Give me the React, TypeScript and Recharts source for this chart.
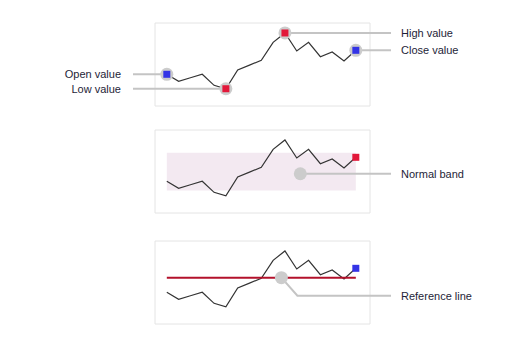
import { LineChart, Line, XAxis, YAxis, CartesianGrid, ReferenceArea, ReferenceLine, ReferenceDot } from 'recharts'

const seq = [0, 1, 2, 3, 4, 5, 6, 7, 8, 9, 10, 11, 12, 13, 14, 15, 16]
const price = [38.2, 29.8, 34, 38.2, 24.9, 20.8, 43.4, 49.2, 55.1, 76.7, 88, 66.3, 76.7, 59.4, 65.1, 54.2, 67.1]
const normalBand = [27, 72.7]
const referenceValue = 55.8
const bandNote = { x: 11.3, y: 47.3 }
const refNoteX = 9.7

const rows = seq.map((x, i) => ({ x, v: price[i] }))

const GRID = '#e4e4e4'
const LEADER = '#c4c4c4'
const HALO = '#cccccc'
const BLUE = '#3434e6'
const RED = '#e2183a'
const TEXT = '#1e1e38'
const FONT = '"Liberation Sans", Arial, sans-serif'
const LEFT_COL = 133
const RIGHT_COL = 391

const last = rows.length - 1
const hiIdx = price.indexOf(Math.max(...price))
const loIdx = price.indexOf(Math.min(...price))

function Label({ x, y, text, end }: { x: number; y: number; text: string; end?: boolean }) {
  return (
    <text x={x} y={y} dy={4} textAnchor={end ? 'end' : 'start'} fontSize={11} fontFamily={FONT} fill={TEXT}>
      {text}
    </text>
  )
}

function Marker({ cx, cy, color }: { cx: number; cy: number; color: string }) {
  return <rect x={cx - 3.5} y={cy - 3.5} width={7} height={7} fill={color} />
}

// tick lines only, no tick text: gives the short grid overhang outside the plot
const noText = () => <g />

function frame() {
  return [
    <CartesianGrid key="g" stroke={GRID} />,
    <XAxis key="xb" dataKey="x" type="number" domain={[-1, 17.2]} ticks={[-1, 17.2]} height={0} tick={noText} axisLine={false} tickSize={4} tickLine={{ stroke: GRID }} />,
    <XAxis key="xt" xAxisId="t" orientation="top" dataKey="x" type="number" domain={[-1, 17.2]} ticks={[-1, 17.2]} height={0} tick={noText} axisLine={false} tickSize={4} tickLine={{ stroke: GRID }} />,
    <YAxis key="yl" type="number" domain={[0, 100]} ticks={[0, 100]} width={0} tick={noText} axisLine={false} tickSize={4} tickLine={{ stroke: GRID }} />,
    <YAxis key="yr" yAxisId="r" orientation="right" type="number" domain={[0, 100]} ticks={[0, 100]} width={0} tick={noText} axisLine={false} tickSize={4} tickLine={{ stroke: GRID }} />,
  ]
}

const chartProps = {
  width: 531,
  height: 110,
  data: rows,
  margin: { top: 23, right: 161, bottom: 4, left: 155 },
}

export default function App() {
  // panel 1: open / high / low / close annotations
  const notes1: Record<number, { text: string; side: 'l' | 'r' }> = {
    0: { text: 'Open value', side: 'l' },
    [loIdx]: { text: 'Low value', side: 'l' },
    [hiIdx]: { text: 'High value', side: 'r' },
    [last]: { text: 'Close value', side: 'r' },
  }

  return (
    <div style={{ position: 'absolute', left: 0, top: 0, width: 531, height: 350, background: '#fff' }}>
      <div style={{ position: 'absolute', left: 0, top: 0 }}>
        <LineChart {...chartProps}>
          {frame()}
          <Line
            dataKey="v"
            stroke="none"
            isAnimationActive={false}
            dot={(p: any) => {
              const n = notes1[p.index]
              if (!n) return <g key={`h${p.index}`} />
              const col = n.side === 'l' ? LEFT_COL : RIGHT_COL
              return (
                <g key={`h${p.index}`}>
                  <line x1={p.cx} y1={p.cy} x2={col} y2={p.cy} stroke={LEADER} strokeWidth={2} />
                  <circle cx={p.cx} cy={p.cy} r={6.5} fill={HALO} />
                  {n.side === 'l' ? (
                    <Label x={col - 12} y={p.cy} text={n.text} end />
                  ) : (
                    <Label x={col + 10} y={p.cy} text={n.text} />
                  )}
                </g>
              )
            }}
          />
          <Line
            dataKey="v"
            stroke="#333"
            strokeWidth={1.2}
            isAnimationActive={false}
            dot={(p: any) => {
              if (p.index === 0 || p.index === last) return <Marker key={`m${p.index}`} cx={p.cx} cy={p.cy} color={BLUE} />
              if (p.index === hiIdx || p.index === loIdx) return <Marker key={`m${p.index}`} cx={p.cx} cy={p.cy} color={RED} />
              return <g key={`m${p.index}`} />
            }}
          />
        </LineChart>
      </div>

      {/* panel 2: normal band */}
      <div style={{ position: 'absolute', left: 0, top: 107 }}>
        <LineChart {...chartProps}>
          {frame()}
          <ReferenceArea x1={seq[0]} x2={seq[last]} y1={normalBand[0]} y2={normalBand[1]} fill="#f3e9f1" fillOpacity={1} stroke="none" />
          <ReferenceDot
            x={bandNote.x}
            y={bandNote.y}
            shape={(p: any) => (
              <g>
                <line x1={p.cx} y1={p.cy} x2={RIGHT_COL} y2={p.cy} stroke={LEADER} strokeWidth={2} />
                <circle cx={p.cx} cy={p.cy} r={6.5} fill={HALO} />
                <Label x={RIGHT_COL + 10} y={p.cy} text="Normal band" />
              </g>
            )}
          />
          <Line
            dataKey="v"
            stroke="#333"
            strokeWidth={1.2}
            isAnimationActive={false}
            dot={(p: any) =>
              p.index === last ? <Marker key={`m${p.index}`} cx={p.cx} cy={p.cy} color={RED} /> : <g key={`m${p.index}`} />
            }
          />
        </LineChart>
      </div>

      {/* panel 3: reference line */}
      <div style={{ position: 'absolute', left: 0, top: 218 }}>
        <LineChart {...chartProps}>
          {frame()}
          <Line
            dataKey="v"
            stroke="#333"
            strokeWidth={1.2}
            isAnimationActive={false}
            dot={(p: any) =>
              p.index === last ? <Marker key={`m${p.index}`} cx={p.cx} cy={p.cy} color={BLUE} /> : <g key={`m${p.index}`} />
            }
          />
          <ReferenceLine
            segment={[
              { x: seq[0], y: referenceValue },
              { x: seq[last], y: referenceValue },
            ]}
            stroke="#b3112b"
            strokeWidth={2}
          />
          <ReferenceDot
            x={refNoteX}
            y={referenceValue}
            shape={(p: any) => (
              <g>
                <polyline
                  points={`${p.cx},${p.cy} ${p.cx + 16},${p.cy + 18} ${RIGHT_COL},${p.cy + 18}`}
                  fill="none"
                  stroke={LEADER}
                  strokeWidth={2}
                />
                <circle cx={p.cx} cy={p.cy} r={6.5} fill={HALO} />
                <Label x={RIGHT_COL + 10} y={p.cy + 18} text="Reference line" />
              </g>
            )}
          />
        </LineChart>
      </div>
    </div>
  )
}
